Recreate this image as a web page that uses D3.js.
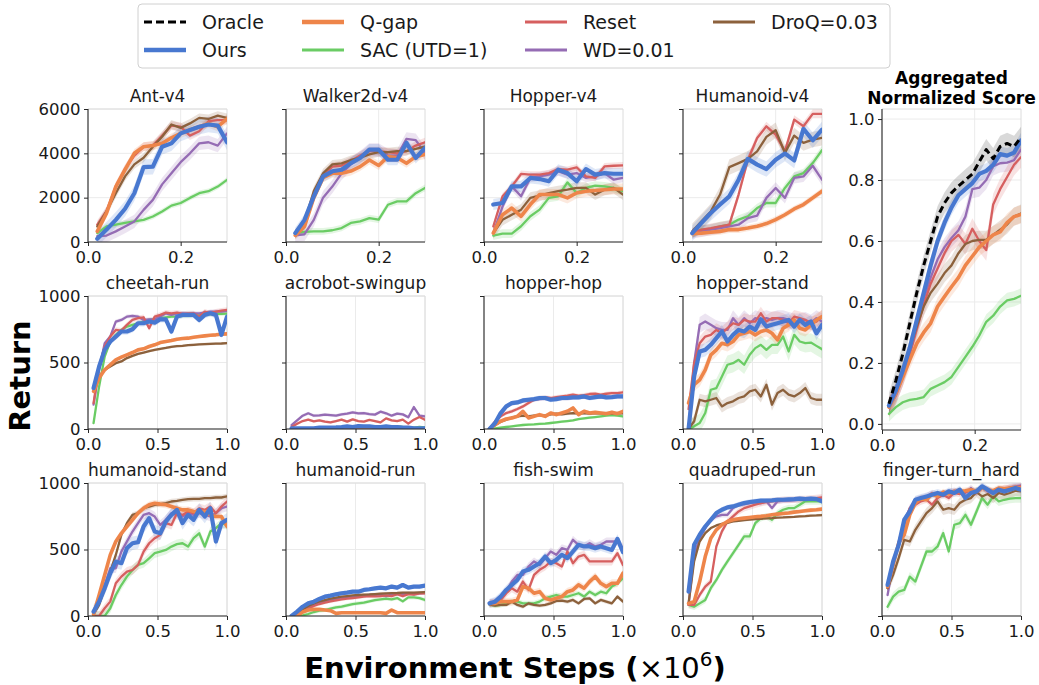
<!DOCTYPE html>
<html><head><meta charset="utf-8">
<script src="https://cdn.jsdelivr.net/npm/d3@7"></script>
<style>body{margin:0;background:#fff} svg{display:block}</style>
</head><body><svg id="c" width="1039" height="685"></svg>
<script>
// ---------------- DATA ----------------
const seriesLabels = ["Oracle","Ours","Q-gap","SAC (UTD=1)","Reset","WD=0.01","DroQ=0.03"];
const seriesKeys = ["oracle","ours","qgap","sac","reset","wd","droq"];

const stepsMujoco = [0.02,0.04,0.06,0.08,0.10,0.12,0.14,0.16,0.18,0.20,0.22,0.24,0.26,0.28,0.30];
const stepsDmc = [0.04,0.08,0.12,0.16,0.20,0.24,0.28,0.32,0.36,0.40,0.44,0.48,0.52,0.56,0.60,0.64,0.68,0.72,0.76,0.80,0.84,0.88,0.92,0.96,1.00];
const stepsAgg = [0.015,0.03,0.045,0.06,0.075,0.09,0.105,0.12,0.135,0.15,0.165,0.18,0.195,0.21,0.225,0.24,0.255,0.27,0.285,0.30];

const ticksMujocoX = [0.0, 0.2];
const ticksDmcX = [0.0, 0.5, 1.0];
const ticksMujocoY = [0, 2000, 4000, 6000];
const ticksDmcY = [0, 500, 1000];
const ticksAggY = [0.0, 0.2, 0.4, 0.6, 0.8, 1.0];

const antV4 = {
  ours:  [150,560,1000,1500,2200,3380,3400,4300,4450,4900,5050,5200,5300,5250,4500],
  qgap:  [480,1300,2500,3260,4000,4300,4350,4450,4700,4900,5050,5200,5350,5200,5550],
  sac:   [400,700,780,860,930,1000,1150,1380,1640,1760,1990,2200,2290,2500,2800],
  reset: [780,1400,2500,3300,3900,4300,4350,4800,5250,5200,4800,5000,5450,5500,5500],
  wd:    [260,290,480,700,930,1450,1900,2600,3100,3600,4000,4450,4500,4350,4900],
  droq:  [700,1380,2200,2960,3500,3800,4300,4750,5300,5150,5350,5600,5550,5700,5600],
  band:  {ours:350,qgap:200,sac:120,reset:200,wd:300,droq:200}
};
const walker2dV4 = {
  ours:  [400,1000,2060,2960,3190,3260,3560,3790,4170,4170,3710,3710,4470,3790,4240],
  qgap:  [300,700,2000,2900,3100,3100,3200,3400,3700,3450,3850,3800,3550,3850,3950],
  sac:   [400,460,480,480,530,630,860,930,1080,1010,1680,1830,1830,2200,2440],
  reset: [350,800,2100,3000,3400,3450,3650,3900,4100,4100,4050,4000,4100,4350,4500],
  wd:    [300,350,1000,2000,2500,3100,3500,3800,4150,4150,3900,3900,4650,4600,4000],
  droq:  [350,900,2300,3100,3500,3550,3700,3800,3950,4050,4050,4100,4100,4200,4300],
  band:  {ours:250,qgap:200,sac:150,reset:200,wd:300,droq:200}
};
const hopperV4 = {
  ours:  [1690,1760,2510,2510,2890,2840,2740,3260,3110,2740,3290,3040,3110,3080,3080],
  qgap:  [400,1230,1530,1160,1690,2140,2140,2140,1990,2210,2290,2320,2360,2390,2390],
  sac:   [290,380,380,710,1160,1460,1990,2060,2690,2210,2440,2540,2510,2440,2290],
  reset: [700,2060,2510,3070,3040,3040,3110,3290,3260,3370,2960,2890,3410,3440,3460],
  wd:    [400,1600,2510,2060,2890,2960,3040,3190,3040,3110,2890,2960,3110,2810,2890],
  droq:  [400,1000,1230,1460,1990,2090,2210,2290,2360,2440,2440,2140,2360,2440,2140],
  band:  {ours:250,qgap:250,sac:200,reset:150,wd:200,droq:250}
};
const humanoidV4 = {
  ours:  [400,860,1310,1690,2060,2810,3750,3490,3290,3710,3990,3680,5100,4590,5070],
  qgap:  [380,400,440,480,560,560,630,710,830,1010,1230,1490,1690,1990,2290],
  sac:   [400,560,590,710,780,1010,1160,1530,1760,1760,2440,2960,3110,3560,4140],
  reset: [400,560,630,710,780,2140,3710,4690,5220,4840,4090,5520,5220,5780,5780],
  wd:    [400,480,560,630,710,780,1080,1190,1990,2440,1990,2890,2960,3440,2810],
  droq:  [480,930,1380,2140,3380,3560,3750,4090,4740,5040,4020,4800,4470,4620,4700],
  band:  {ours:350,qgap:150,sac:200,reset:200,wd:250,droq:350}
};
const aggregated = {
  oracle:[0.066,0.143,0.23,0.33,0.43,0.52,0.60,0.68,0.725,0.758,0.78,0.80,0.82,0.86,0.90,0.87,0.91,0.92,0.91,0.94],
  ours:  [0.06,0.11,0.176,0.25,0.34,0.43,0.52,0.60,0.66,0.71,0.75,0.77,0.79,0.82,0.83,0.85,0.885,0.88,0.89,0.93],
  qgap:  [0.055,0.10,0.154,0.21,0.264,0.30,0.33,0.385,0.418,0.45,0.48,0.52,0.55,0.58,0.60,0.62,0.63,0.66,0.68,0.687],
  sac:   [0.033,0.055,0.071,0.079,0.082,0.088,0.115,0.126,0.137,0.154,0.187,0.22,0.253,0.29,0.335,0.355,0.385,0.405,0.41,0.42],
  reset: [0.055,0.10,0.16,0.23,0.31,0.39,0.46,0.51,0.56,0.60,0.62,0.59,0.64,0.60,0.57,0.72,0.77,0.81,0.85,0.875],
  wd:    [0.055,0.093,0.154,0.23,0.32,0.41,0.48,0.54,0.58,0.61,0.635,0.68,0.77,0.775,0.80,0.845,0.855,0.857,0.865,0.90],
  droq:  [0.055,0.104,0.17,0.25,0.32,0.385,0.43,0.46,0.495,0.52,0.56,0.59,0.60,0.604,0.604,0.62,0.637,0.654,0.68,0.69],
  band:  {oracle:0.035,ours:0.025,qgap:0.03,sac:0.025,reset:0.035,wd:0.03,droq:0.03}
};
const cheetahRun = {
  ours:  [308,470,595,658,695,733,733,750,795,795,808,800,825,825,733,845,858,858,858,820,858,870,858,708,845],
  qgap:  [283,383,445,483,520,540,558,575,595,603,620,633,650,658,665,675,680,683,690,695,700,705,708,713,715],
  sac:   [45,320,545,658,708,745,770,783,795,808,820,825,833,840,845,845,850,850,855,858,860,863,865,865,868],
  reset: [195,470,620,695,745,740,783,820,833,840,758,845,858,875,870,875,865,870,870,845,883,870,883,890,895],
  wd:    [183,445,645,695,808,820,845,850,845,820,825,825,845,870,858,870,870,865,870,870,875,883,883,883,888],
  droq:  [320,395,445,470,495,508,533,550,565,575,585,595,603,610,618,623,625,630,633,636,638,640,642,643,645],
  band:  {ours:25,qgap:12,sac:15,reset:20,wd:15,droq:10}
};
const acrobotSwingup = {
  ours:  [5,5,5,5,5,10,10,10,12,15,20,15,22,20,20,15,15,20,15,15,10,10,5,5,5],
  qgap:  [2,2,2,2,2,2,2,2,2,2,2,2,2,2,2,2,2,2,2,2,2,2,2,2,2],
  sac:   [0,0,0,0,2,3,5,5,5,8,10,10,8,10,12,10,10,12,15,20,15,12,10,15,12],
  reset: [15,40,60,70,58,65,55,50,60,70,55,72,60,55,68,60,50,80,65,60,70,40,70,90,70],
  wd:    [30,65,100,118,100,102,108,105,100,110,115,125,118,120,112,108,130,118,100,115,110,88,165,100,95],
  droq:  [1,1,1,1,1,1,1,1,1,1,1,1,1,1,1,1,1,1,1,1,1,1,1,1,1],
  band:  {ours:8,qgap:3,sac:6,reset:10,wd:12,droq:2}
};
const hopperHop = {
  ours:  [0,45,120,170,195,200,215,220,225,233,233,220,225,233,233,238,238,245,233,240,245,238,240,245,245],
  qgap:  [0,32,58,75,83,95,133,83,95,108,95,120,108,120,133,158,108,133,120,125,120,115,125,115,133],
  sac:   [0,5,10,15,20,25,30,33,35,38,40,45,50,55,60,65,75,80,85,90,95,100,105,100,95],
  reset: [0,58,95,120,133,150,170,195,220,233,238,233,240,245,250,258,250,255,263,265,258,265,270,270,275],
  wd:    [0,40,110,165,190,200,210,215,220,225,228,225,228,230,232,235,238,240,235,238,240,238,240,242,245],
  droq:  [0,30,55,70,85,95,100,95,100,105,100,110,115,110,115,120,118,120,115,120,118,120,115,120,118],
  band:  {ours:18,qgap:15,sac:10,reset:15,wd:15,droq:12}
};
const hopperStand = {
  ours:  [0,395,583,595,633,683,733,658,708,745,733,770,745,825,770,783,795,808,820,770,820,783,808,720,783],
  qgap:  [195,333,370,445,558,595,645,633,658,708,720,733,708,733,745,720,670,758,783,820,758,745,783,820,845],
  sac:   [0,20,45,120,295,308,395,483,495,520,483,558,608,633,595,633,633,695,583,708,658,645,650,625,600],
  reset: [150,495,645,695,708,745,720,758,795,783,820,808,808,870,808,833,833,820,795,845,833,820,795,808,845],
  wd:    [0,495,783,808,783,758,745,745,833,783,833,795,833,820,833,820,833,833,820,808,808,820,800,833,808],
  droq:  [0,58,220,208,220,233,170,195,208,233,245,283,295,245,333,183,270,295,258,245,270,308,233,220,220],
  band:  {ours:50,qgap:50,sac:70,reset:50,wd:60,droq:45}
};
const humanoidStand = {
  ours:  [33,108,208,321,409,397,510,547,555,673,735,635,622,710,760,798,698,760,723,798,748,810,560,698,723],
  qgap:  [13,158,309,459,560,622,673,723,773,810,836,848,841,836,823,810,798,798,786,781,786,760,748,748,673],
  sac:   [0,0,0,58,158,233,296,346,384,397,434,472,484,497,522,540,547,522,585,622,522,635,660,698,685],
  reset: [0,0,58,108,246,296,334,346,384,484,547,585,610,698,685,773,760,786,773,810,798,823,773,823,861],
  wd:    [13,133,233,359,359,484,560,635,698,760,773,748,685,723,773,760,748,773,760,773,760,748,773,810,823],
  droq:  [13,83,208,334,459,610,698,760,773,810,823,836,841,848,861,866,873,878,881,881,886,886,891,891,899],
  band:  {ours:50,qgap:25,sac:35,reset:35,wd:35,droq:20}
};
const humanoidRun = {
  ours:  [0,33,70,95,108,128,146,153,163,171,176,183,183,196,201,208,213,208,221,213,233,213,221,221,228],
  qgap:  [0,0,30,45,50,50,45,40,20,25,25,25,25,25,25,25,25,20,45,25,25,25,25,25,25],
  sac:   [0,0,5,15,30,40,45,55,65,70,80,90,95,100,110,120,125,130,125,135,110,140,140,135,120],
  reset: [0,0,30,55,75,90,100,110,118,125,130,135,140,145,150,148,150,155,150,165,150,165,160,170,170],
  wd:    [0,5,40,65,85,100,110,120,128,135,140,145,150,155,158,160,158,150,160,165,165,170,165,170,175],
  droq:  [0,10,50,75,95,110,120,130,138,145,150,155,158,160,162,165,168,170,172,173,175,176,175,178,180],
  band:  {ours:15,qgap:10,sac:15,reset:12,wd:12,droq:10}
};
const fishSwim = {
  ours:  [95,108,146,196,234,271,334,347,372,397,447,397,422,460,435,485,535,523,523,510,523,510,497,580,480],
  qgap:  [95,95,108,108,108,121,221,209,171,183,133,121,133,146,183,196,234,209,259,297,246,221,246,246,322],
  sac:   [88,78,83,95,108,108,95,95,95,108,133,146,158,146,146,158,171,146,183,158,183,171,221,246,284],
  reset: [95,100,121,171,209,183,259,196,309,347,372,410,397,372,485,397,447,460,410,410,410,410,410,472,384],
  wd:    [95,108,133,183,259,309,309,372,410,384,435,485,460,510,497,573,535,523,548,523,535,560,560,560,510],
  droq:  [88,78,83,83,108,83,70,95,83,78,83,95,113,116,108,121,95,128,133,95,121,108,95,146,108],
  band:  {ours:35,qgap:30,sac:20,reset:30,wd:30,droq:15}
};
const quadrupedRun = {
  ours:  [183,535,611,673,723,774,799,817,824,837,849,857,862,867,867,869,874,874,877,879,882,879,882,879,862],
  qgap:  [95,108,259,447,585,648,686,711,724,731,736,741,746,749,754,761,766,771,774,781,786,791,796,799,804],
  sac:   [83,70,95,121,209,271,347,410,472,535,598,598,698,736,749,724,774,799,811,811,837,862,862,862,862],
  reset: [83,83,158,221,259,523,636,711,749,786,811,824,837,849,857,862,867,874,874,874,879,879,882,887,892],
  wd:    [83,460,585,661,723,749,761,761,811,837,842,849,857,849,862,811,862,867,867,872,874,874,877,882,887],
  droq:  [95,410,560,623,661,681,693,701,711,716,721,724,729,731,734,736,739,741,744,746,749,751,754,756,759],
  band:  {ours:20,qgap:15,sac:25,reset:25,wd:20,droq:10}
};
const fingerTurnHard = {
  ours:  [234,410,535,724,786,874,887,899,912,925,912,937,925,950,887,925,937,975,950,925,950,937,950,962,950],
  qgap:  [221,384,548,611,761,849,887,874,917,899,932,917,937,937,942,950,937,962,950,942,962,957,962,967,962],
  sac:   [70,146,183,196,296,259,372,485,485,523,623,485,686,698,761,686,786,887,837,899,862,874,882,887,887],
  reset: [209,410,535,686,811,837,862,874,837,887,912,887,925,917,932,942,925,962,950,925,937,962,962,967,975],
  wd:    [158,384,560,711,811,874,887,899,925,912,917,932,942,932,925,962,925,975,937,917,950,950,967,975,982],
  droq:  [209,309,435,573,560,648,711,774,811,862,799,811,799,849,874,887,932,899,917,887,925,912,925,942,937],
  band:  {ours:30,qgap:25,sac:35,reset:25,wd:25,droq:40}
};

// ---------------- STYLE / LAYOUT ----------------
const FONT = "DejaVu Sans";
const styles = {
  sac:   {color:"#6acc64", width:2.3},
  wd:    {color:"#956cb4", width:2.3},
  reset: {color:"#d65f5f", width:2.3},
  droq:  {color:"#8c613c", width:2.3},
  qgap:  {color:"#ee854a", width:3.6},
  ours:  {color:"#4878d0", width:4.2},
  oracle:{color:"#000000", width:3, dash:"7,4", band:"#000000"}
};
const drawOrder = ["sac","wd","reset","droq","qgap","ours","oracle"];

const colLeft = [88, 286, 484, 683, 882];
const rowTop = [109, 296, 483];
const PW = 139, PH = 133;

const panels = [
  {title:"Ant-v4", d:antV4, x:stepsMujoco, col:0,row:0, xd:[0,0.3], xt:ticksMujocoX, yd:[0,6000], yt:ticksMujocoY, ylab:true},
  {title:"Walker2d-v4", d:walker2dV4, x:stepsMujoco, col:1,row:0, xd:[0,0.3], xt:ticksMujocoX, yd:[0,6000], yt:ticksMujocoY},
  {title:"Hopper-v4", d:hopperV4, x:stepsMujoco, col:2,row:0, xd:[0,0.3], xt:ticksMujocoX, yd:[0,6000], yt:ticksMujocoY},
  {title:"Humanoid-v4", d:humanoidV4, x:stepsMujoco, col:3,row:0, xd:[0,0.3], xt:ticksMujocoX, yd:[0,6000], yt:ticksMujocoY},
  {title:"cheetah-run", d:cheetahRun, x:stepsDmc, col:0,row:1, xd:[0,1], xt:ticksDmcX, yd:[0,1000], yt:ticksDmcY, ylab:true},
  {title:"acrobot-swingup", d:acrobotSwingup, x:stepsDmc, col:1,row:1, xd:[0,1], xt:ticksDmcX, yd:[0,1000], yt:ticksDmcY},
  {title:"hopper-hop", d:hopperHop, x:stepsDmc, col:2,row:1, xd:[0,1], xt:ticksDmcX, yd:[0,1000], yt:ticksDmcY},
  {title:"hopper-stand", d:hopperStand, x:stepsDmc, col:3,row:1, xd:[0,1], xt:ticksDmcX, yd:[0,1000], yt:ticksDmcY},
  {title:"humanoid-stand", d:humanoidStand, x:stepsDmc, col:0,row:2, xd:[0,1], xt:ticksDmcX, yd:[0,1000], yt:ticksDmcY, ylab:true},
  {title:"humanoid-run", d:humanoidRun, x:stepsDmc, col:1,row:2, xd:[0,1], xt:ticksDmcX, yd:[0,1000], yt:ticksDmcY},
  {title:"fish-swim", d:fishSwim, x:stepsDmc, col:2,row:2, xd:[0,1], xt:ticksDmcX, yd:[0,1000], yt:ticksDmcY},
  {title:"quadruped-run", d:quadrupedRun, x:stepsDmc, col:3,row:2, xd:[0,1], xt:ticksDmcX, yd:[0,1000], yt:ticksDmcY},
  {title:"finger-turn_hard", d:fingerTurnHard, x:stepsDmc, col:4,row:2, xd:[0,1], xt:ticksDmcX, yd:[0,1000], yt:ticksDmcY},
  {title:null, d:aggregated, x:stepsAgg, col:4,row:0, tall:true, xd:[0,0.3], xt:ticksMujocoX, yd:[-0.02,1.033], yt:ticksAggY, ylab:true, yfmt:".1f"}
];

const svg = d3.select("#c");
svg.append("rect").attr("width",1039).attr("height",685).attr("fill","#fff");
const defs = svg.append("defs");

panels.forEach((p, i) => {
  const x0 = colLeft[p.col], y0 = rowTop[p.row];
  const h = p.tall ? 321 : PH;
  const x = d3.scaleLinear().domain(p.xd).range([x0, x0 + PW]);
  const y = d3.scaleLinear().domain(p.yd).range([y0 + h, y0]);
  const g = svg.append("g");

  // grid
  g.selectAll(null).data(p.xt).join("line")
    .attr("x1", d => x(d)).attr("x2", d => x(d)).attr("y1", y0).attr("y2", y0 + h)
    .attr("stroke", "#ebebeb").attr("stroke-width", 1);
  g.selectAll(null).data(p.yt).join("line")
    .attr("x1", x0).attr("x2", x0 + PW).attr("y1", d => y(d)).attr("y2", d => y(d))
    .attr("stroke", "#ebebeb").attr("stroke-width", 1);
  // light top/right spines
  g.append("path").attr("d", `M${x0},${y0}H${x0+PW}V${y0+h}`)
    .attr("fill","none").attr("stroke","#dcdcdc").attr("stroke-width",1);

  // clip
  const cid = "clip" + i;
  defs.append("clipPath").attr("id", cid).append("rect")
    .attr("x", x0).attr("y", y0).attr("width", PW).attr("height", h);
  const pg = g.append("g").attr("clip-path", `url(#${cid})`);

  const keys = drawOrder.filter(k => p.d[k]);
  // bands
  keys.forEach(k => {
    const vals = p.d[k], b = p.d.band[k];
    const area = d3.area()
      .x((v, j) => x(p.x[j]))
      .y0(v => y(v - b)).y1(v => y(v + b));
    pg.append("path").attr("d", area(vals))
      .attr("fill", styles[k].band || styles[k].color)
      .attr("fill-opacity", k === "oracle" ? 0.15 : 0.18);
  });
  // lines
  keys.forEach(k => {
    const vals = p.d[k];
    const line = d3.line().x((v, j) => x(p.x[j])).y(v => y(v));
    pg.append("path").attr("d", line(vals))
      .attr("fill", "none").attr("stroke", styles[k].color)
      .attr("stroke-width", styles[k].width)
      .attr("stroke-linejoin", "round").attr("stroke-linecap", k === "oracle" ? "butt" : "round")
      .attr("stroke-dasharray", styles[k].dash || null);
  });

  // axes
  const xa = g.append("g").attr("transform", `translate(0,${y0 + h})`)
    .call(d3.axisBottom(x).tickValues(p.xt).tickFormat(d3.format(".1f")).tickSize(4).tickPadding(5.5));
  const ya = g.append("g").attr("transform", `translate(${x0},0)`)
    .call(d3.axisLeft(y).tickValues(p.yt)
      .tickFormat(p.ylab ? d3.format(p.yfmt || "d") : "").tickSize(4).tickPadding(3.5));
  [xa, ya].forEach(a => {
    a.select(".domain").attr("stroke", "#262626").attr("stroke-width", 1.1);
    a.selectAll(".tick line").attr("stroke", "#262626").attr("stroke-width", 1);
    a.selectAll("text").attr("font-family", FONT).attr("font-size", 16.5).attr("fill", "#1a1a1a");
  });
  ya.select(".domain").attr("d", `M0,${y0}V${y0 + h}`);
  xa.select(".domain").attr("d", `M${x0},0H${x0 + PW}`);

  if (p.title) {
    g.append("text").attr("x", x0 + PW / 2).attr("y", y0 - 7)
      .attr("text-anchor", "middle").attr("font-family", FONT).attr("font-size", 17)
      .attr("fill", "#1a1a1a").text(p.title);
  }
});

// aggregated title
const at = svg.append("text").attr("text-anchor", "middle").attr("font-family", FONT)
  .attr("font-size", 17).attr("font-weight", "bold").attr("fill", "#000");
at.append("tspan").attr("x", colLeft[4] + PW / 2).attr("y", 84).text("Aggregated");
at.append("tspan").attr("x", colLeft[4] + PW / 2).attr("y", 104).text("Normalized Score");

// axis labels
svg.append("text").attr("transform", "translate(30,376) rotate(-90)")
  .attr("text-anchor", "middle").attr("font-family", FONT).attr("font-size", 29)
  .attr("font-weight", "bold").attr("fill", "#000").text("Return");
const xl = svg.append("text").attr("x", 515).attr("y", 678).attr("text-anchor", "middle")
  .attr("font-family", FONT).attr("font-size", 29).attr("font-weight", "bold").attr("fill", "#000");
xl.append("tspan").text("Environment Steps (");
xl.append("tspan").attr("font-weight", "normal").text("\u00d710");
xl.append("tspan").attr("dy", -12).attr("font-size", 20).attr("font-weight", "normal").text("6");
xl.append("tspan").attr("dy", 12).text(")");

// legend
const lg = svg.append("g");
lg.append("rect").attr("x", 138).attr("y", 4).attr("width", 752).attr("height", 64).attr("rx", 4)
  .attr("fill", "#fff").attr("stroke", "#d0d0d0").attr("stroke-width", 1);
const legCols = [144, 302, 525, 713];
const legRows = [22, 50];
seriesLabels.forEach((lab, i) => {
  const k = seriesKeys[i];
  const c = Math.floor(i / 2), r = i % 2;
  const lx = legCols[c], ly = legRows[r];
  lg.append("line").attr("x1", lx).attr("x2", lx + 42).attr("y1", ly).attr("y2", ly)
    .attr("stroke", styles[k].color)
    .attr("stroke-width", k === "ours" || k === "qgap" ? 4.5 : 3)
    .attr("stroke-dasharray", k === "oracle" ? "8,4" : null);
  lg.append("text").attr("x", lx + 58).attr("y", ly).attr("dy", "0.35em")
    .attr("font-family", FONT).attr("font-size", 19).attr("fill", "#1a1a1a").text(lab);
});
</script></body></html>
